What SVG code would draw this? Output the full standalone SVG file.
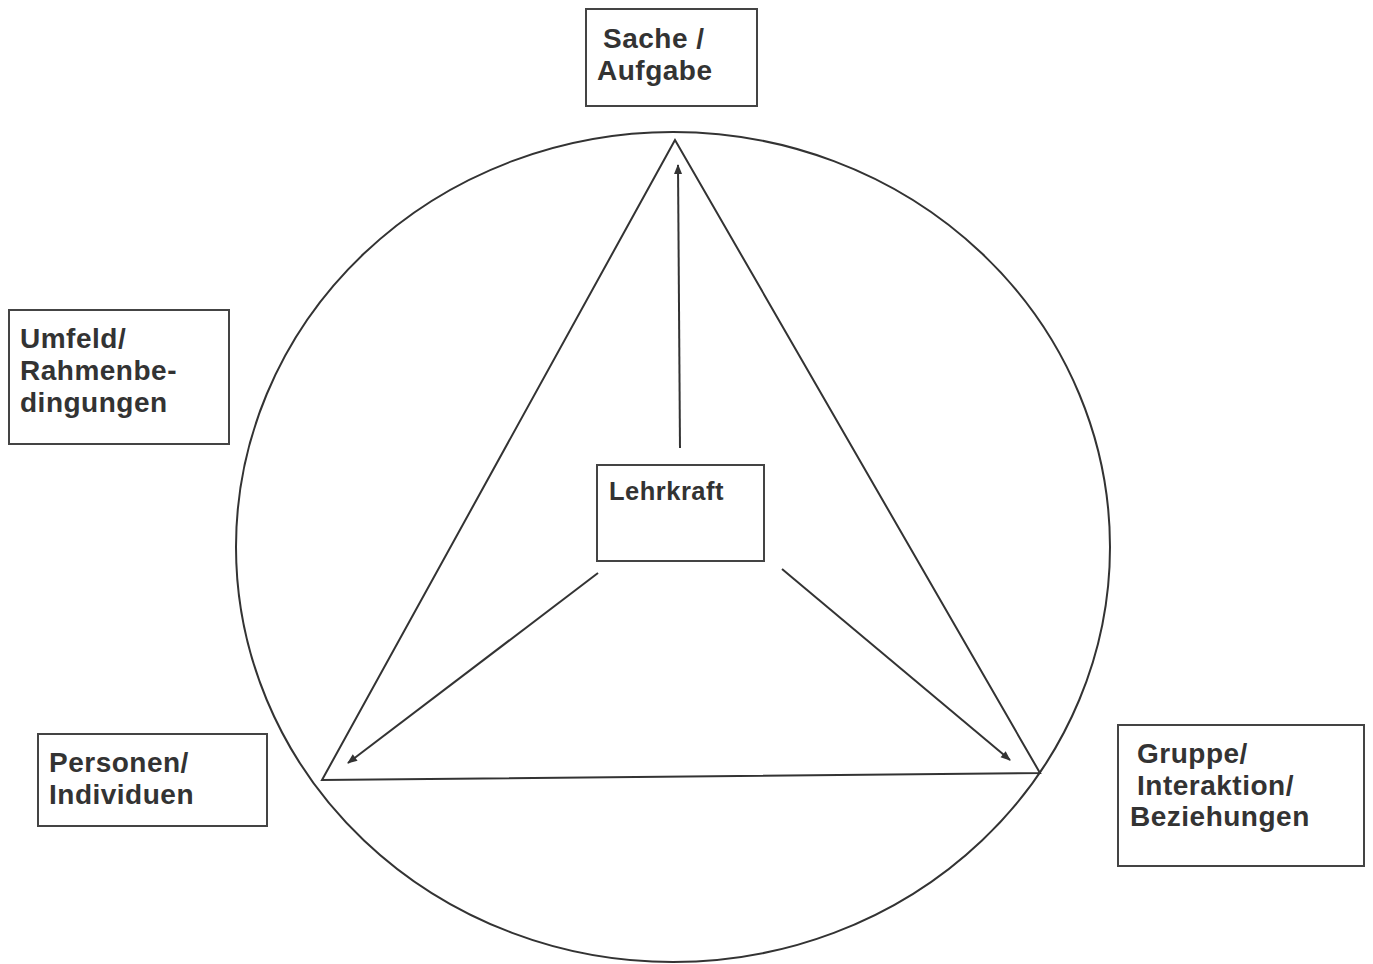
<svg xmlns="http://www.w3.org/2000/svg" width="1373" height="964" viewBox="0 0 1373 964">
<style>
.box{fill:#fff;stroke:#444;stroke-width:2}
.t{font-family:"Liberation Sans",Arial,sans-serif;font-weight:bold;font-size:28px;letter-spacing:0.5px;fill:#333}
.ln{fill:none;stroke:#333;stroke-width:2}
</style>
<defs>
<marker id="ah" viewBox="0 0 10 10" refX="9" refY="5" markerWidth="12" markerHeight="10" orient="auto" markerUnits="userSpaceOnUse">
<path d="M0,1 L10,5 L0,9 z" fill="#333"/>
</marker>
</defs>
<rect width="1373" height="964" fill="#fff"/>
<g id="frame">
<ellipse class="ln" cx="673" cy="547" rx="437" ry="415"/>
<polygon class="ln" points="675,140 322,780 1040,773"/>
</g>
<g id="connectors">
<line class="ln" x1="680" y1="448" x2="678" y2="165" marker-end="url(#ah)"/>
<line class="ln" x1="598" y1="573" x2="348" y2="763" marker-end="url(#ah)"/>
<line class="ln" x1="782" y1="569" x2="1010" y2="760" marker-end="url(#ah)"/>
</g>
<g id="sache">
<rect class="box" x="586" y="9" width="171" height="97"/>
<text class="t" x="603" y="48">Sache /</text>
<text class="t" x="597" y="80">Aufgabe</text>
</g>
<g id="umfeld">
<rect class="box" x="9" y="310" width="220" height="134"/>
<text class="t" x="20" y="348">Umfeld/</text>
<text class="t" x="20" y="380">Rahmenbe-</text>
<text class="t" x="20" y="412">dingungen</text>
</g>
<g id="lehrkraft">
<rect class="box" x="597" y="465" width="167" height="96"/>
<text class="t" x="609" y="500" style="font-size:25.5px">Lehrkraft</text>
</g>
<g id="personen">
<rect class="box" x="38" y="734" width="229" height="92"/>
<text class="t" x="49" y="772">Personen/</text>
<text class="t" x="49" y="804">Individuen</text>
</g>
<g id="gruppe">
<rect class="box" x="1118" y="725" width="246" height="141"/>
<text class="t" x="1137" y="763">Gruppe/</text>
<text class="t" x="1137" y="795">Interaktion/</text>
<text class="t" x="1130" y="826">Beziehungen</text>
</g>
</svg>
